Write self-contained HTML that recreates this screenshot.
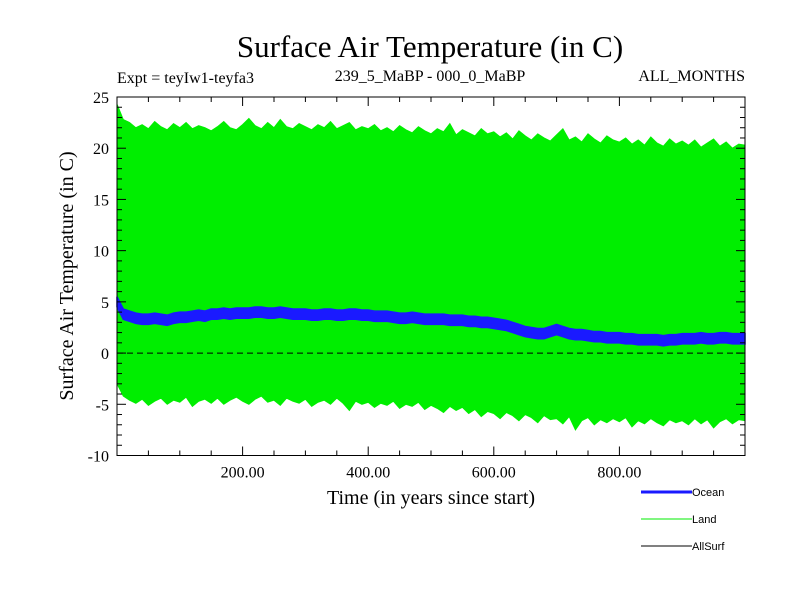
<!DOCTYPE html>
<html><head><meta charset="utf-8"><style>
body{margin:0;background:#fff}
svg text{font-family:"Liberation Serif",serif;fill:#000}
</style></head><body>
<svg id="chart" width="800" height="600" xmlns="http://www.w3.org/2000/svg">
<rect width="800" height="600" fill="#fff"/>
<text x="430" y="57" font-size="31" text-anchor="middle">Surface Air Temperature (in C)</text>
<text x="117" y="83" font-size="16">Expt = teyIw1-teyfa3</text>
<text x="430" y="81" font-size="16" text-anchor="middle">239_5_MaBP - 000_0_MaBP</text>
<text x="745" y="81" font-size="16" text-anchor="end">ALL_MONTHS</text>
<g id="plot"></g>
<text transform="translate(73,276) rotate(-90)" font-size="20" text-anchor="middle">Surface Air Temperature (in C)</text>
<text x="431" y="504" font-size="20" text-anchor="middle">Time (in years since start)</text>
<g>
<g><line x1="641" y1="492" x2="692" y2="492" stroke="#1a1aff" stroke-width="3"/><text x="692" y="496" font-size="11" style="font-family:'Liberation Sans',sans-serif">Ocean</text></g>
<g><line x1="641" y1="519" x2="692" y2="519" stroke="#00ee00" stroke-width="1"/><text x="692" y="523" font-size="11" style="font-family:'Liberation Sans',sans-serif">Land</text></g>
<g><line x1="641" y1="546" x2="692" y2="546" stroke="#000" stroke-width="1"/><text x="692" y="550" font-size="11" style="font-family:'Liberation Sans',sans-serif">AllSurf</text></g>
</g>
</svg>
<script>
const years = Array.from({length:101},(_, i)=>i*10);
const landMax = [24.3,22.8,22.5,22.0,22.3,21.9,22.6,22.1,21.8,22.4,
22.0,22.5,21.9,22.2,22.0,21.7,22.1,22.6,22.0,21.8,
22.3,22.9,22.2,21.9,22.5,22.0,22.8,22.1,21.9,22.4,
22.1,21.8,22.3,22.0,22.6,21.9,22.2,22.5,21.8,22.1,
21.9,22.3,21.7,22.0,21.6,22.2,21.8,21.5,22.1,21.7,
21.4,21.9,21.6,22.4,21.3,21.8,21.5,21.2,21.9,21.4,
21.6,21.1,21.5,20.9,21.7,21.2,20.8,21.4,21.0,20.7,
21.3,21.9,20.8,21.1,20.6,21.4,20.9,20.5,21.2,20.8,
20.6,21.0,20.4,20.8,20.3,21.1,20.5,20.2,20.9,20.4,
20.7,20.3,20.8,20.1,20.5,20.9,20.2,20.6,20.0,20.4,20.3];
const landMin = [-3.0,-4.2,-4.6,-4.9,-4.5,-5.1,-4.7,-4.4,-5.0,-4.6,
-4.8,-4.3,-5.2,-4.7,-4.5,-4.9,-4.4,-5.0,-4.6,-4.3,
-4.7,-5.0,-4.5,-4.2,-4.8,-4.6,-5.1,-4.4,-4.7,-4.9,
-4.5,-5.2,-4.8,-4.6,-5.0,-4.4,-4.9,-5.6,-4.7,-5.0,
-4.8,-5.3,-4.9,-5.1,-4.7,-5.4,-5.0,-5.2,-4.8,-5.5,
-5.1,-5.4,-5.8,-5.2,-5.6,-5.3,-5.9,-5.5,-6.2,-5.7,
-5.9,-6.4,-5.8,-6.1,-6.6,-6.0,-6.3,-6.8,-6.1,-6.5,
-6.4,-6.9,-6.2,-7.5,-6.6,-6.3,-7.0,-6.5,-6.8,-6.4,
-6.7,-6.3,-7.2,-6.6,-6.9,-6.4,-6.8,-7.1,-6.5,-6.8,
-6.6,-7.0,-6.4,-6.9,-6.5,-7.3,-6.7,-6.4,-6.9,-6.5,-6.6];
const oceanCenter = [5.0,3.8,3.6,3.4,3.3,3.3,3.4,3.3,3.2,3.4,
3.5,3.5,3.6,3.7,3.6,3.8,3.8,3.9,3.8,3.9,
3.9,3.9,4.0,4.0,3.9,3.9,4.0,3.9,3.8,3.8,
3.8,3.7,3.7,3.8,3.8,3.7,3.7,3.8,3.8,3.7,
3.7,3.6,3.6,3.6,3.5,3.4,3.4,3.5,3.4,3.3,
3.3,3.3,3.3,3.2,3.2,3.2,3.1,3.1,3.0,3.0,
2.9,2.8,2.7,2.5,2.3,2.1,2.0,1.9,1.9,2.1,
2.3,2.1,1.9,1.8,1.8,1.7,1.6,1.6,1.5,1.5,
1.5,1.4,1.4,1.3,1.3,1.3,1.3,1.2,1.3,1.3,
1.4,1.4,1.4,1.5,1.4,1.4,1.5,1.5,1.4,1.4,1.4];
const oceanHalfWidth = 0.5;
const yTicks = [25,20,15,10,5,0,-5,-10];
const yTickLabels = ["25","20","15","10","5","0","-5","-10"];
const xTicks = [200,400,600,800];
const xTickLabels = ["200.00","400.00","600.00","800.00"];

const L=117,R=745,T=97,B=455.5, X0=0,X1=1000,Y0=-10,Y1=25;
const sx=v=>L+(v-X0)/(X1-X0)*(R-L);
const sy=v=>B-(v-Y0)/(Y1-Y0)*(B-T);
const NS="http://www.w3.org/2000/svg";
const g=document.getElementById('plot');
function mk(tag,attrs){const e=document.createElementNS(NS,tag);for(const k in attrs)e.setAttribute(k,attrs[k]);g.appendChild(e);return e;}

let pts=years.map((y,i)=>sx(y)+','+sy(landMax[i]));
pts=pts.concat(years.map((y,i)=>sx(y)+','+sy(landMin[i])).reverse());
const land=mk('polygon',{points:pts.join(' '),fill:'#00ee00',stroke:'#00ee00','stroke-width':1});



let op=years.map((y,i)=>sx(y)+','+sy(oceanCenter[i]+oceanHalfWidth));
op=op.concat(years.map((y,i)=>sx(y)+','+sy(oceanCenter[i]-oceanHalfWidth)).reverse());
const ocean=mk('polygon',{points:op.join(' '),fill:'#1a1aff',stroke:'#1a1aff','stroke-width':1.5});



const z=mk('line',{x1:L,x2:R,y1:sy(0),y2:sy(0),stroke:'#000','stroke-dasharray':'6,4','stroke-width':1});



const fr=mk('rect',{x:L,y:T,width:R-L,height:B-T,fill:'none',stroke:'#000','stroke-width':1});



for(let v=Y0;v<=Y1;v++){
  const len=(v%5===0)?9:5;
  mk('line',{x1:L,x2:L+len,y1:sy(v),y2:sy(v),stroke:'#000'});
  mk('line',{x1:R,x2:R-len,y1:sy(v),y2:sy(v),stroke:'#000'});
}
yTicks.forEach((v,i)=>{
  const t=mk('text',{x:L-8,y:sy(v)+6,'font-size':16,'text-anchor':'end'});
  t.textContent=yTickLabels[i];
  
  
});
for(let v=50;v<X1;v+=50){
  const len=(v%200===0)?9:5;
  mk('line',{x1:sx(v),x2:sx(v),y1:B,y2:B-len,stroke:'#000'});
  mk('line',{x1:sx(v),x2:sx(v),y1:T,y2:T+len,stroke:'#000'});
}
xTicks.forEach((v,i)=>{
  const t=mk('text',{x:sx(v),y:B+22,'font-size':16,'text-anchor':'middle'});
  t.textContent=xTickLabels[i];
  
  
});
</script>
</body></html>
